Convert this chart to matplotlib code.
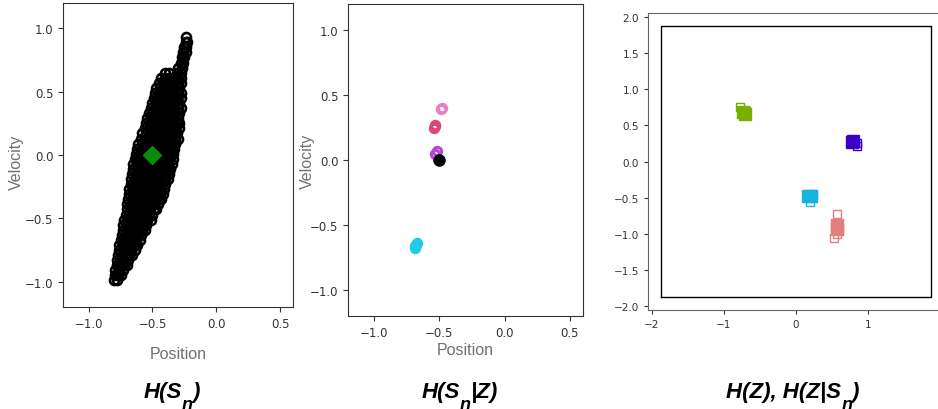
import matplotlib
matplotlib.use("Agg")
import matplotlib.pyplot as plt
from matplotlib.transforms import IdentityTransform

# ---- panel 1: state samples (velocity row -> positions) ----
cloud_rows = [
    (0.93, [-0.235]),
    (0.89, [-0.24, -0.23]),
    (0.85, [-0.25, -0.235]),
    (0.81, [-0.26, -0.24]),
    (0.77, [-0.27, -0.25]),
    (0.73, [-0.28, -0.26]),
    (0.69, [-0.30, -0.27]),
    (0.65, [-0.40, -0.37, -0.31, -0.28]),
    (0.61, [-0.43, -0.40, -0.37, -0.34, -0.31, -0.28]),
    (0.57, [-0.45, -0.42, -0.39, -0.36, -0.33, -0.30, -0.28]),
    (0.53, [-0.47, -0.44, -0.41, -0.38, -0.35, -0.32, -0.29]),
    (0.49, [-0.48, -0.45, -0.42, -0.39, -0.36, -0.33, -0.30, -0.28]),
    (0.45, [-0.49, -0.46, -0.43, -0.40, -0.37, -0.34, -0.31, -0.28]),
    (0.41, [-0.50, -0.47, -0.44, -0.41, -0.38, -0.35, -0.32, -0.29]),
    (0.37, [-0.51, -0.48, -0.45, -0.42, -0.39, -0.36, -0.33, -0.30, -0.28]),
    (0.33, [-0.53, -0.50, -0.47, -0.44, -0.41, -0.38, -0.35, -0.32, -0.29]),
    (0.29, [-0.54, -0.51, -0.48, -0.45, -0.42, -0.39, -0.36, -0.33, -0.30]),
    (0.25, [-0.55, -0.52, -0.49, -0.46, -0.43, -0.40, -0.37, -0.34, -0.31, -0.29]),
    (0.21, [-0.56, -0.53, -0.50, -0.47, -0.44, -0.41, -0.38, -0.35, -0.32, -0.29]),
    (0.17, [-0.58, -0.55, -0.52, -0.49, -0.46, -0.43, -0.40, -0.37, -0.34, -0.31]),
    (0.13, [-0.59, -0.56, -0.53, -0.50, -0.47, -0.44, -0.41, -0.38, -0.35, -0.32, -0.30]),
    (0.09, [-0.61, -0.58, -0.55, -0.52, -0.49, -0.46, -0.43, -0.40, -0.37, -0.34, -0.32]),
    (0.05, [-0.62, -0.59, -0.56, -0.53, -0.50, -0.47, -0.44, -0.41, -0.38, -0.35, -0.33]),
    (0.01, [-0.63, -0.60, -0.57, -0.54, -0.51, -0.48, -0.45, -0.42, -0.39, -0.36, -0.34]),
    (-0.03, [-0.64, -0.61, -0.58, -0.55, -0.52, -0.49, -0.46, -0.43, -0.40, -0.37, -0.34]),
    (-0.07, [-0.65, -0.62, -0.59, -0.56, -0.53, -0.50, -0.47, -0.44, -0.41, -0.38, -0.35]),
    (-0.11, [-0.65, -0.62, -0.59, -0.56, -0.53, -0.50, -0.47, -0.44, -0.41, -0.38, -0.36]),
    (-0.15, [-0.66, -0.63, -0.60, -0.57, -0.54, -0.51, -0.48, -0.45, -0.42, -0.39, -0.37]),
    (-0.19, [-0.67, -0.64, -0.61, -0.58, -0.55, -0.52, -0.49, -0.46, -0.43, -0.40, -0.38]),
    (-0.23, [-0.67, -0.64, -0.61, -0.58, -0.55, -0.52, -0.49, -0.46, -0.43, -0.40]),
    (-0.27, [-0.68, -0.65, -0.62, -0.59, -0.56, -0.53, -0.50, -0.47, -0.44, -0.41]),
    (-0.31, [-0.68, -0.65, -0.62, -0.59, -0.56, -0.53, -0.50, -0.47, -0.44, -0.42]),
    (-0.35, [-0.69, -0.66, -0.63, -0.60, -0.57, -0.54, -0.51, -0.48, -0.45, -0.43]),
    (-0.39, [-0.70, -0.67, -0.64, -0.61, -0.58, -0.55, -0.52, -0.49, -0.46]),
    (-0.43, [-0.70, -0.67, -0.64, -0.61, -0.58, -0.55, -0.52, -0.49, -0.47]),
    (-0.47, [-0.71, -0.68, -0.65, -0.62, -0.59, -0.56, -0.53, -0.50]),
    (-0.51, [-0.72, -0.69, -0.66, -0.63, -0.60, -0.57, -0.54, -0.51]),
    (-0.55, [-0.73, -0.70, -0.67, -0.64, -0.61, -0.58, -0.55]),
    (-0.59, [-0.73, -0.70, -0.67, -0.64, -0.61, -0.58, -0.56]),
    (-0.63, [-0.74, -0.71, -0.68, -0.65, -0.62, -0.59]),
    (-0.67, [-0.75, -0.72, -0.69, -0.66, -0.63, -0.60]),
    (-0.71, [-0.76, -0.73, -0.70, -0.67, -0.64, -0.62]),
    (-0.75, [-0.76, -0.73, -0.70, -0.67, -0.64]),
    (-0.79, [-0.77, -0.74, -0.71, -0.68, -0.66]),
    (-0.83, [-0.78, -0.75, -0.72, -0.69]),
    (-0.87, [-0.78, -0.75, -0.72, -0.70]),
    (-0.91, [-0.79, -0.76, -0.73]),
    (-0.95, [-0.79, -0.77, -0.75]),
    (-0.99, [-0.80, -0.78]),
]
start_pos = [-0.5]
start_vel = [0.0]

# ---- panel 2: samples conditioned on Z ----
cond_colors = ['#e67fc9', '#d9497a', '#b446d0', '#1fcbe8']
cond_pos = [[-0.49, -0.48], [-0.54, -0.53, -0.535], [-0.53, -0.52],
            [-0.69, -0.685, -0.68, -0.675]]
cond_vel = [[0.39, 0.40], [0.25, 0.27, 0.26], [0.05, 0.07],
            [-0.68, -0.66, -0.65, -0.64]]

# ---- panel 3: latent codes ----
z_colors = ['#78b000', '#3a00c8', '#18b2e0', '#e07f80']
z_x = [[-0.74, -0.71], [0.77, 0.79], [0.17, 0.20], [0.56, 0.56]]
z_y = [[0.68, 0.66], [0.27, 0.28], [-0.48, -0.47], [-0.87, -0.93]]
zs_x = [[-0.77, -0.70], [0.84, 0.85], [0.19, 0.24], [0.56, 0.53, 0.57, 0.59]]
zs_y = [[0.75, 0.70], [0.22, 0.26], [-0.56, -0.45], [-0.73, -1.06, -1.00, -0.95]]
box_x = [-1.87, 1.87, 1.87, -1.87, -1.87]
box_y = [-1.87, -1.87, 1.87, 1.87, -1.87]

# titles: (text, is_subscript) pieces
titles = [
    (172, [('H(S', False), ('n', True), (')', False)]),
    (460, [('H(S', False), ('n', True), ('|Z)', False)]),
    (793, [('H(Z), H(Z|S', False), ('n', True), (')', False)]),
]

fig = plt.figure(figsize=(9.38, 4.10), dpi=100)
ax1 = fig.add_axes([0.0672, 0.2488, 0.2452, 0.7415])
ax2 = fig.add_axes([0.371, 0.2268, 0.2505, 0.761])
ax3 = fig.add_axes([0.6908, 0.2415, 0.3158, 0.724])

label_kw = dict(family='Liberation Sans', fontsize=11.5, color='#707070')

for row_v, row_p in cloud_rows:
    ax1.plot(row_p, [row_v] * len(row_p), 'o', ls='none', mfc='none',
             mec='black', ms=6.5, mew=1.9)
ax1.plot(start_pos, start_vel, 'D', color='#0a8a0a', ms=9)

for c, xs, ys in zip(cond_colors, cond_pos, cond_vel):
    ax2.plot(xs, ys, 'o', ls='none', mfc='none', mec=c, ms=6, mew=2.2)
ax2.plot(start_pos, start_vel, 'o', color='black', ms=8)

for ax in (ax1, ax2):
    ax.set_xlim(-1.2, 0.6)
    ax.set_ylim(-1.2, 1.2)
    ax.set_xticks([-1.0, -0.5, 0.0, 0.5])
    ax.set_yticks([-1.0, -0.5, 0.0, 0.5, 1.0])
    ax.tick_params(labelsize=8.5, colors='#333333', length=3.5)
    ax.set_xlabel('Position', **label_kw)
    ax.set_ylabel('Velocity', **label_kw)
    for s in ax.spines.values():
        s.set_color('#333333')

ax1.xaxis.labelpad = 12
ax2.xaxis.labelpad = 2
ax1.yaxis.set_label_coords(-0.17, 0.48)
ax2.yaxis.set_label_coords(-0.14, 0.5)

ax3.plot(box_x, box_y, color='black', lw=1.0)
for c, xs, ys, hx, hy in zip(z_colors, z_x, z_y, zs_x, zs_y):
    ax3.plot(hx, hy, 's', ls='none', mfc='none', mec=c, ms=6, mew=1.0)
    ax3.plot(xs, ys, 's', ls='none', color=c, ms=9)
ax3.set_xlim(-2.05, 2.05)
ax3.set_ylim(-2.05, 2.05)
ax3.set_xticks([-2, -1, 0, 1, 2])
ax3.set_yticks([-2.0, -1.5, -1.0, -0.5, 0.0, 0.5, 1.0, 1.5, 2.0])
ax3.tick_params(labelsize=7.5, colors='#333333', length=3)
for s in ax3.spines.values():
    s.set_color('#666666')

# bold italic titles with a large, low subscript
renderer = fig.canvas.get_renderer()
for cx, pieces in titles:
    items = []
    for s, sub in pieces:
        t = fig.text(0, 0, s, transform=IdentityTransform(),
                     family='Liberation Sans', weight='bold', style='italic',
                     fontsize=13 if sub else 16, va='baseline', ha='left')
        w = t.get_window_extent(renderer).width
        items.append((t, sub, w))
    total = sum(w for _, _, w in items)
    x = cx - total / 2
    for t, sub, w in items:
        t.set_position((x, 0 if sub else 12))
        x += w

fig.savefig('out.png', dpi=100)
